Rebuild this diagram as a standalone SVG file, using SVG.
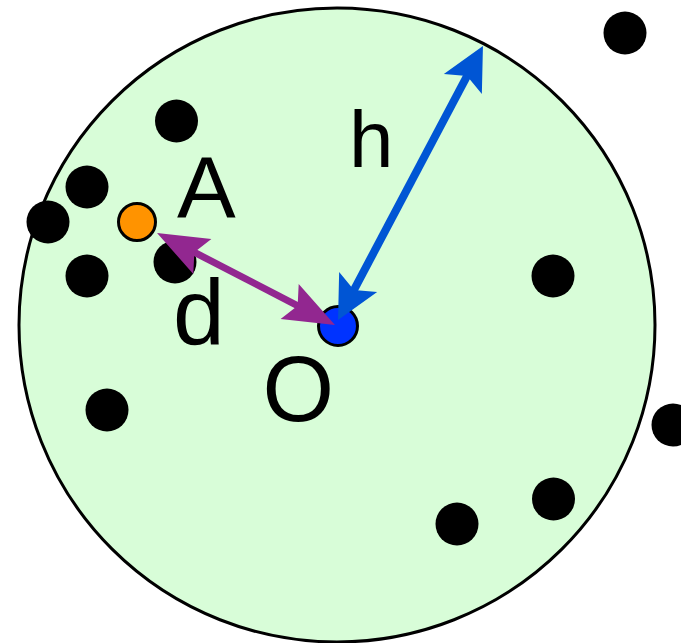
<svg xmlns="http://www.w3.org/2000/svg" width="681" height="643" viewBox="0 0 681 643">
<style>
.dot{fill:#000}
.lbl{font-family:"Liberation Sans",Arial,sans-serif;fill:#000}
.blue{stroke:#0055d4;stroke-width:8;fill:none}
.purple{stroke:#922790;stroke-width:7;fill:none}
</style>
<defs>
<marker id="hb" viewBox="-50 -25 60 50" refX="-20" refY="0" markerWidth="60" markerHeight="50" markerUnits="userSpaceOnUse" orient="auto-start-reverse">
<path d="M0,0 L-43,-21.5 L-34,0 L-43,21.5 Z" fill="#0055d4"/>
</marker>
<marker id="hp" viewBox="-55 -25 65 50" refX="-20" refY="0" markerWidth="65" markerHeight="50" markerUnits="userSpaceOnUse" orient="auto-start-reverse">
<path d="M0,0 L-51,-19.7 L-42,0 L-51,19.7 Z" fill="#922790"/>
</marker>
</defs>
<rect width="681" height="643" fill="#fff"/>
<g id="region">
<ellipse cx="337" cy="325" rx="318" ry="317" fill="#d8fdd8" stroke="#000" stroke-width="3"/>
</g>
<g id="points">
<circle class="dot" cx="625" cy="33" r="21.5"/>
<circle class="dot" cx="176.5" cy="121" r="21.5"/>
<circle class="dot" cx="87" cy="187" r="21.5"/>
<circle class="dot" cx="48" cy="222" r="21.5"/>
<circle class="dot" cx="87" cy="276" r="21.5"/>
<circle class="dot" cx="175" cy="262" r="21.5"/>
<circle class="dot" cx="553" cy="276" r="21.5"/>
<circle class="dot" cx="107" cy="410" r="21.5"/>
<circle class="dot" cx="457" cy="524" r="21.5"/>
<circle class="dot" cx="553.5" cy="499" r="21.5"/>
<circle class="dot" cx="673" cy="425" r="21.5"/>
</g>
<g id="nodeO">
<circle cx="338" cy="326" r="19.5" fill="#0033ff" stroke="#000" stroke-width="3"/>
<text class="lbl" x="262.5" y="420.5" font-size="92">O</text>
</g>
<g id="nodeA">
<circle cx="137" cy="222" r="18.5" fill="#ff9300" stroke="#000" stroke-width="3"/>
<text class="lbl" x="177" y="218" font-size="88">A</text>
</g>
<g id="connectors">
<line class="purple" x1="174.8" y1="242.2" x2="317.2" y2="315.8" marker-start="url(#hp)" marker-end="url(#hp)"/>
<line class="blue" x1="347.4" y1="302.3" x2="473.6" y2="63.7" marker-start="url(#hb)" marker-end="url(#hb)"/>
<text class="lbl" x="173" y="344" font-size="93">d</text>
<text class="lbl" x="349" y="167" font-size="80">h</text>
</g>
</svg>
